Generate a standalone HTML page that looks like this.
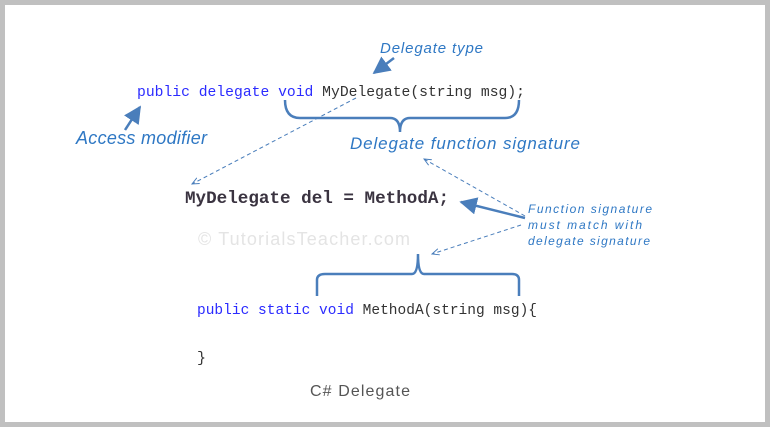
<!DOCTYPE html>
<html><head><meta charset="utf-8"><style>
html,body{margin:0;padding:0;background:#c0c0c0;}
svg{display:block;}
.c{font-family:"Liberation Mono",monospace;}
.h{font-family:"Liberation Sans",sans-serif;font-style:italic;fill:#2f78c4;}
</style></head><body>
<svg width="770" height="427" xmlns="http://www.w3.org/2000/svg">
<defs>
<marker id="a" viewBox="0 0 10 10" refX="9" refY="5" markerWidth="7" markerHeight="7" orient="auto-start-reverse"><path d="M0,0L10,5L0,10z" fill="#4a7ebb"/></marker>
<marker id="d" viewBox="0 0 10 10" refX="9" refY="5" markerWidth="8" markerHeight="8" orient="auto"><path d="M0,1L9,5L0,9" fill="none" stroke="#4a7ebb" stroke-width="1.2"/></marker>
</defs>
<rect x="5" y="5" width="760" height="417" fill="#fff"/>
<text x="137" y="96" class="c" font-size="14.7" textLength="388"><tspan fill="#2b2bff">public delegate void</tspan><tspan fill="#333"> MyDelegate(string msg);</tspan></text>
<text x="185" y="203" class="c" font-size="17.6" font-weight="bold" fill="#3a3340" textLength="264">MyDelegate del = MethodA;</text>
<text x="197" y="314" class="c" font-size="14.5" textLength="340"><tspan fill="#2b2bff">public static void</tspan><tspan fill="#333"> MethodA(string msg){</tspan></text>
<text x="197" y="362" class="c" font-size="15" fill="#333">}</text>
<text x="198" y="245" font-family="Liberation Sans,sans-serif" font-size="18" fill="#e4e4e4" textLength="212">© TutorialsTeacher.com</text>
<text x="310" y="396" font-family="Liberation Sans,sans-serif" font-size="16" fill="#555" textLength="100">C# Delegate</text>
<text x="380" y="53" class="h" font-size="15" textLength="103">Delegate type</text>
<text x="76" y="144" class="h" font-size="18" textLength="131">Access modifier</text>
<text x="350" y="149" class="h" font-size="17" textLength="230">Delegate function signature</text>
<text x="528" y="213" class="h" font-size="12" textLength="124">Function signature</text>
<text x="528" y="229" class="h" font-size="12" textLength="114">must match with</text>
<text x="528" y="245" class="h" font-size="12" textLength="122">delegate signature</text>
<path d="M285,100 Q285,118 300,118 L390,118 Q400,118 400,132 Q400,118 410,118 L505,118 Q519,118 519,100" fill="none" stroke="#4a7ebb" stroke-width="2.5"/>
<path d="M317,296 L317,280 Q317,274 325,274 L412,274 Q418,274 418,254 Q418,274 424,274 L512,274 Q519,274 519,280 L519,296" fill="none" stroke="#4a7ebb" stroke-width="2.5"/>
<line x1="394" y1="58" x2="374" y2="73" stroke="#4a7ebb" stroke-width="2.5" marker-end="url(#a)"/>
<line x1="125" y1="130" x2="140" y2="107" stroke="#4a7ebb" stroke-width="2.5" marker-end="url(#a)"/>
<line x1="525" y1="218" x2="461" y2="202" stroke="#4a7ebb" stroke-width="2.5" marker-end="url(#a)"/>
<line x1="356" y1="98" x2="192" y2="184" stroke="#4a7ebb" stroke-width="1" stroke-dasharray="4,3" marker-end="url(#d)"/>
<line x1="525" y1="216" x2="424" y2="159" stroke="#4a7ebb" stroke-width="1" stroke-dasharray="4,3" marker-end="url(#d)"/>
<line x1="521" y1="225" x2="432" y2="254" stroke="#4a7ebb" stroke-width="1" stroke-dasharray="4,3" marker-end="url(#d)"/>
</svg>
</body></html>
